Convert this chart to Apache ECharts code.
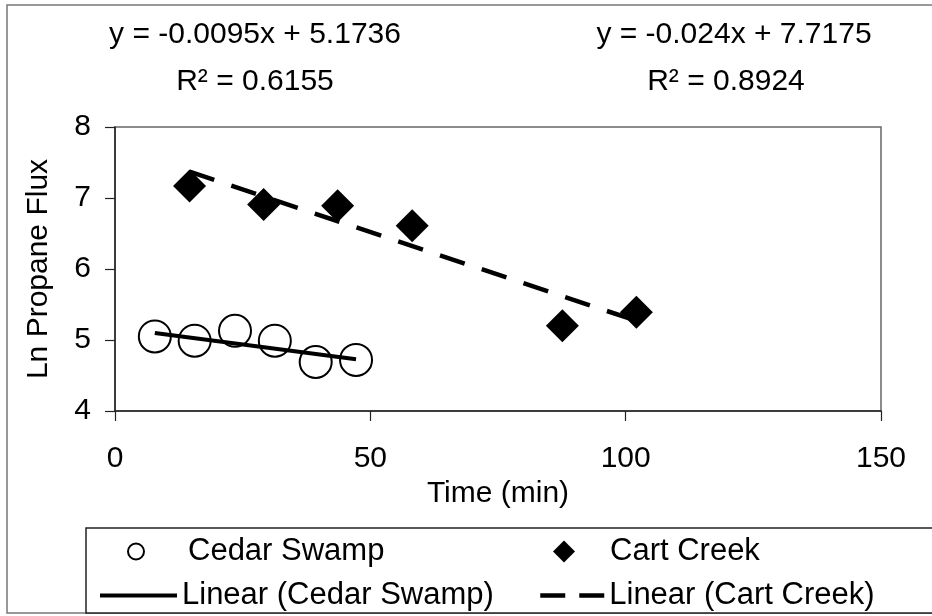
<!DOCTYPE html>
<html>
<head>
<meta charset="utf-8">
<script src="https://cdn.jsdelivr.net/npm/echarts@6/dist/echarts.min.js"></script>
<style>html,body{margin:0;padding:0;background:#fff;}#c{width:932px;height:616px;}</style>
</head>
<body>
<div id="c"></div>
<script>
// Data
const cedarTime = [7.8, 15.6, 23.5, 31.3, 39.3, 47.2];
const cedarLnFlux = [5.05, 4.99, 5.13, 4.99, 4.69, 4.72];
const cartTime = [14.6, 29.1, 43.6, 58.2, 87.6, 102.1];
const cartLnFlux = [7.17, 6.91, 6.89, 6.61, 5.20, 5.39];
// Trendline end points (Excel linear trendlines span the data range)
const cedarTrendX = [7.8, 47.2];
const cedarTrendY = [5.10, 4.73];
const cartTrendX = [14.6, 102.1];
const cartTrendY = [7.37, 5.27];
const xTicks = [0, 50, 100, 150];
const yTicks = [4, 5, 6, 7, 8];
const cedarEq = ['y = -0.0095x + 5.1736', 'R\u00B2 = 0.6155'];
const cartEq = ['y = -0.024x + 7.7175', 'R\u00B2 = 0.8924'];

const FONT = '"Liberation Sans", Arial, sans-serif';
const zip = (a, b) => a.map((v, i) => [v, b[i]]);

const chart = echarts.init(document.getElementById('c'));
chart.setOption({
  animation: false,
  backgroundColor: '#fff',
  textStyle: { fontFamily: FONT, color: '#000' },
  grid: {
    left: 115, top: 127, right: 51, bottom: 205,
    outerBoundsMode: 'none',
    show: true, borderColor: '#666', borderWidth: 1.5, backgroundColor: 'transparent'
  },
  xAxis: {
    type: 'value', min: xTicks[0], max: xTicks[xTicks.length - 1], interval: 50,
    name: 'Time (min)', nameLocation: 'middle', nameGap: 68,
    nameTextStyle: { fontSize: 30, fontFamily: FONT, color: '#000' },
    axisLine: { show: true, lineStyle: { color: '#222', width: 1.5 } },
    axisTick: { show: true, inside: false, length: 10, lineStyle: { color: '#222', width: 1.2 } },
    axisLabel: { fontSize: 30, fontFamily: FONT, color: '#000', margin: 33 },
    splitLine: { show: false }
  },
  yAxis: {
    type: 'value', min: yTicks[0], max: yTicks[yTicks.length - 1], interval: 1,
    name: 'Ln Propane Flux', nameLocation: 'middle', nameGap: 61,
    nameTextStyle: { fontSize: 30, fontFamily: FONT, color: '#000' },
    axisLine: { show: true, lineStyle: { color: '#222', width: 1.5 } },
    axisTick: { show: true, inside: false, length: 10, lineStyle: { color: '#222', width: 1.2 } },
    axisLabel: { fontSize: 30, fontFamily: FONT, color: '#000', margin: 24 },
    splitLine: { show: false }
  },
  legend: [
    {
      data: ['Cedar Swamp'], left: 127, top: 536, padding: 0,
      itemWidth: 16, itemHeight: 16, selectedMode: false,
      itemStyle: { color: 'rgba(0,0,0,0)', borderColor: '#000', borderWidth: 2, opacity: 1 },
      textStyle: { fontSize: 31, fontFamily: FONT, color: '#000', padding: [0, 0, 0, 39] }
    },
    {
      data: ['Cart Creek'], left: 553, top: 536, padding: 0,
      itemWidth: 22, itemHeight: 22, selectedMode: false,
      itemStyle: { color: '#000', opacity: 1 },
      textStyle: { fontSize: 31, fontFamily: FONT, color: '#000', padding: [0, 0, 0, 30] }
    },
    {
      data: ['Linear (Cedar Swamp)'], left: 98, top: 580, padding: 0,
      itemWidth: 77, itemHeight: 16, selectedMode: false,
      itemStyle: { opacity: 0 },
      lineStyle: { width: 4, color: '#000', type: 'solid' },
      textStyle: { fontSize: 31, fontFamily: FONT, color: '#000' }
    },
    {
      data: ['Linear (Cart Creek)'], left: 538, top: 580, padding: 0,
      itemWidth: 64, itemHeight: 16, selectedMode: false,
      itemStyle: { opacity: 0 },
      lineStyle: { width: 4.5, color: '#000', type: [25, 14] },
      textStyle: { fontSize: 31, fontFamily: FONT, color: '#000' }
    }
  ],
  graphic: [
    { type: 'rect', z: -10, shape: { x: 7, y: 5, width: 940, height: 608 },
      style: { fill: 'none', stroke: '#777', lineWidth: 1.5 } },
    { type: 'rect', z: -5, shape: { x: 86, y: 528, width: 860, height: 85 },
      style: { fill: '#fff', stroke: '#222', lineWidth: 1.5 } },
    { type: 'text', x: 255, y: 35, style: { text: cedarEq[0], font: '30px ' + FONT, fill: '#000', align: 'center', verticalAlign: 'middle' } },
    { type: 'text', x: 255, y: 82, style: { text: cedarEq[1], font: '30px ' + FONT, fill: '#000', align: 'center', verticalAlign: 'middle' } },
    { type: 'text', x: 734, y: 35, style: { text: cartEq[0], font: '30px ' + FONT, fill: '#000', align: 'center', verticalAlign: 'middle' } },
    { type: 'text', x: 726, y: 82, style: { text: cartEq[1], font: '30px ' + FONT, fill: '#000', align: 'center', verticalAlign: 'middle' } }
  ],
  series: [
    {
      name: 'Cedar Swamp', type: 'scatter', data: zip(cedarTime, cedarLnFlux),
      symbol: 'circle', symbolSize: 32, z: 2,
      itemStyle: { color: 'rgba(0,0,0,0)', borderColor: '#000', borderWidth: 2, opacity: 1 }
    },
    {
      name: 'Cart Creek', type: 'scatter', data: zip(cartTime, cartLnFlux),
      symbol: 'diamond', symbolSize: 33, z: 2,
      itemStyle: { color: '#000', opacity: 1 }
    },
    {
      name: 'Linear (Cedar Swamp)', type: 'line', data: zip(cedarTrendX, cedarTrendY),
      symbol: 'none', showSymbol: false, z: 3, silent: true,
      itemStyle: { color: '#000' },
      lineStyle: { color: '#000', width: 4, type: 'solid' }
    },
    {
      name: 'Linear (Cart Creek)', type: 'line', data: zip(cartTrendX, cartTrendY),
      symbol: 'none', showSymbol: false, z: 3, silent: true,
      itemStyle: { color: '#000' },
      lineStyle: { color: '#000', width: 4.5, type: [26, 18] }
    }
  ]
});
</script>
</body>
</html>
